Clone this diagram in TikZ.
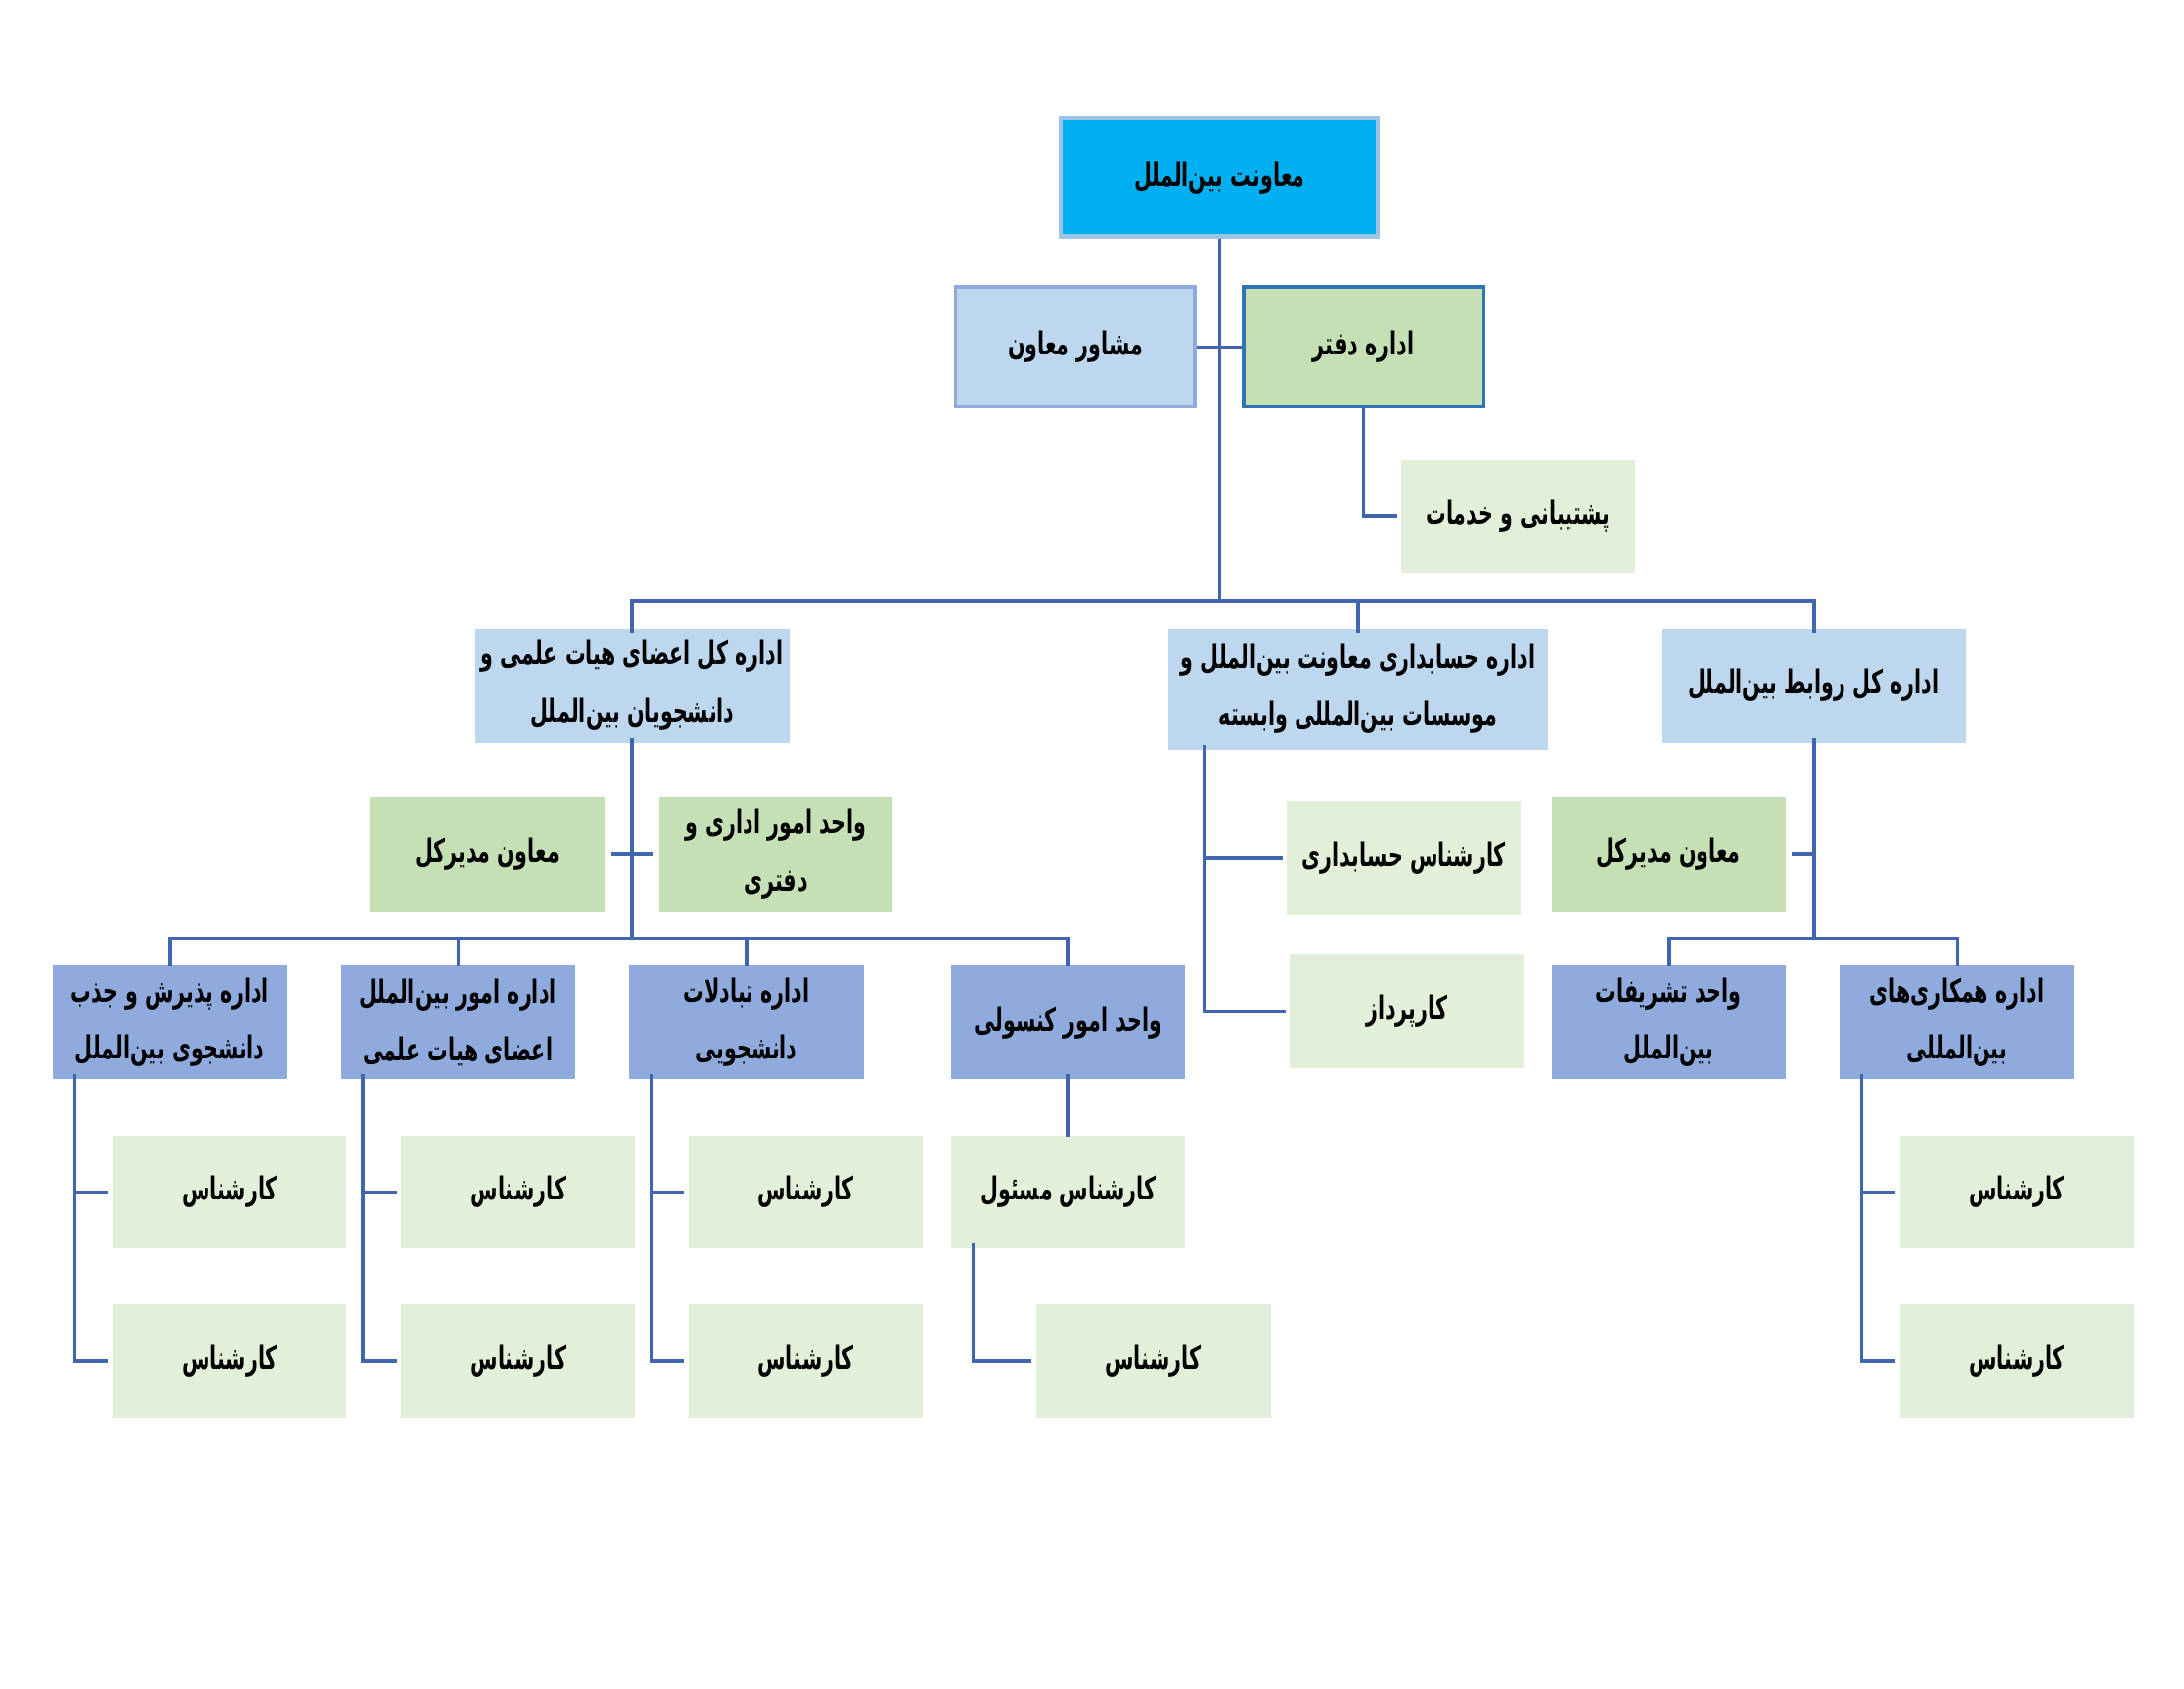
\documentclass[tikz,border=0pt]{standalone}
\usepackage{fontspec}
\TeXXeTstate=1
\newfontfamily\fafont[Script=Arabic,FakeStretch=0.64]{DejaVu Sans}
\newcommand\rl[1]{\beginR #1\endR}
\definecolor{topfill}{HTML}{00B0F0}
\definecolor{topdraw}{HTML}{9DC3E6}
\definecolor{lblue}{HTML}{BDD7EE}
\definecolor{lbluedraw}{HTML}{8FAADC}
\definecolor{mblue}{HTML}{8FAADC}
\definecolor{mgreen}{HTML}{C5E0B4}
\definecolor{lgreen}{HTML}{E2F0D9}
\definecolor{darkdraw}{HTML}{2E75B6}
\definecolor{conn}{HTML}{4165AF}
\begin{document}
\begin{tikzpicture}[x=1pt,y=-1pt,
  box/.style={rectangle,inner sep=0pt,align=center,text=black,
    font=\fafont\bfseries\fontsize{23}{41}\selectfont},
  topbox/.style={box,fill=topfill,draw=topdraw,line width=3pt},
  l2box/.style={box,fill=lblue},
  gbox/.style={box,fill=mgreen},
  bbox/.style={box,fill=mblue},
  leaf/.style={box,fill=lgreen},
  wire/.style={draw=conn,line width=2.6pt}]
\useasboundingbox (0,0) rectangle (1568,1212);
% top
\node[topbox,minimum width=227pt,minimum height=85pt] (top) at (875.5,127.5) {\rl{معاونت بین‌الملل}};
\node[box,fill=lblue,draw=lbluedraw,line width=2.5pt,minimum width=172pt,minimum height=86pt] (mosh) at (772,249) {\rl{مشاور معاون}};
\node[box,fill=mgreen,draw=darkdraw,line width=2.5pt,minimum width=172pt,minimum height=86pt] (daftar) at (979,249) {\rl{اداره دفتر}};
\node[leaf,minimum width=168pt,minimum height=81pt] (posht) at (1090,370.5) {\rl{پشتیبانی و خدمات}};
% level 2
\node[l2box,minimum width=226pt,minimum height=82pt] (la) at (454,492) {\rl{اداره کل اعضای هیات علمی و}\\\rl{دانشجویان بین‌الملل}};
\node[l2box,minimum width=272pt,minimum height=87pt] (lb) at (975,494.5) {\rl{اداره حسابداری معاونت بین‌الملل و}\\\rl{موسسات بین‌المللی وابسته}};
\node[l2box,minimum width=218pt,minimum height=82pt] (lc) at (1302,492) {\rl{اداره کل روابط بین‌الملل}};
% left subtree assistants
\node[gbox,minimum width=168pt,minimum height=82pt] (asa) at (350,613) {\rl{معاون مدیرکل}};
\node[gbox,minimum width=168pt,minimum height=82pt] (asb) at (557,613) {\rl{واحد امور اداری و}\\\rl{دفتری}};
% level 3 left
\node[bbox,minimum width=168pt,minimum height=82pt] (ba) at (122,734) {\rl{اداره پذیرش و جذب}\\\rl{دانشجوی بین‌الملل}};
\node[bbox,minimum width=168pt,minimum height=82pt] (bb) at (329,734) {\rl{اداره امور بین‌الملل}\\\rl{اعضای هیات علمی}};
\node[bbox,minimum width=168pt,minimum height=82pt] (bc) at (536,734) {\rl{اداره تبادلات}\\\rl{دانشجویی}};
\node[bbox,minimum width=168pt,minimum height=82pt] (bd) at (767,734) {\rl{واحد امور کنسولی}};
% leaves left
\node[leaf,minimum width=168pt,minimum height=81pt] (ka1) at (165,855.5) {\rl{کارشناس}};
\node[leaf,minimum width=168pt,minimum height=82pt] (ka2) at (165,977) {\rl{کارشناس}};
\node[leaf,minimum width=168pt,minimum height=81pt] (kb1) at (372,855.5) {\rl{کارشناس}};
\node[leaf,minimum width=168pt,minimum height=82pt] (kb2) at (372,977) {\rl{کارشناس}};
\node[leaf,minimum width=168pt,minimum height=81pt] (kc1) at (578.5,855.5) {\rl{کارشناس}};
\node[leaf,minimum width=168pt,minimum height=82pt] (kc2) at (578.5,977) {\rl{کارشناس}};
\node[leaf,minimum width=168pt,minimum height=81pt] (kd1) at (767,855.5) {\rl{کارشناس مسئول}};
\node[leaf,minimum width=168pt,minimum height=82pt] (kd2) at (828,977) {\rl{کارشناس}};
% middle subtree
\node[leaf,minimum width=168pt,minimum height=82pt] (acc) at (1008,616) {\rl{کارشناس حسابداری}};
\node[leaf,minimum width=168pt,minimum height=82pt] (karp) at (1010,726) {\rl{کارپرداز}};
% right subtree
\node[gbox,minimum width=168pt,minimum height=82pt] (asr) at (1198,613) {\rl{معاون مدیرکل}};
\node[bbox,minimum width=168pt,minimum height=82pt] (be) at (1198,734) {\rl{واحد تشریفات}\\\rl{بین‌الملل}};
\node[bbox,minimum width=168pt,minimum height=82pt] (bf) at (1405,734) {\rl{اداره همکاری‌های}\\\rl{بین‌المللی}};
\node[leaf,minimum width=168pt,minimum height=81pt] (kf1) at (1448,855.5) {\rl{کارشناس}};
\node[leaf,minimum width=168pt,minimum height=82pt] (kf2) at (1448,977) {\rl{کارشناس}};
% bus coordinates
\coordinate (bus1) at (875.5,431);
\coordinate (bus2) at (454,674);
\coordinate (bus3) at (1302,674);
% connectors top
\draw[wire] (top.south) -- (bus1);
\draw[wire] (mosh.east) -- (daftar.west);
\draw[wire] (daftar.south) |- ([xshift=-3pt]posht.west);
\draw[wire] ([yshift=-3pt]la.north) |- (bus1) -| ([yshift=-3pt]lc.north);
\draw[wire] (bus1 -| lb.north) -- ([yshift=-3pt]lb.north);
% left subtree
\draw[wire] ([yshift=4pt]la.south) -- (bus2);
\draw[wire] ([xshift=4pt]asa.east) -- ([xshift=-4pt]asb.west);
\draw[wire] ([yshift=-1pt]ba.north) |- (bus2) -| ([yshift=-1pt]bd.north);
\draw[wire] (bus2 -| bb.north) -- ([yshift=-1pt]bb.north);
\draw[wire] (bus2 -| bc.north) -- ([yshift=-1pt]bc.north);
\foreach \b/\u/\v in {ba/ka1/ka2,bb/kb1/kb2,bc/kc1/kc2}{
  \draw[wire] ([xshift=16pt,yshift=4pt]\b.south west) |- ([xshift=-3pt]\v.west);
  \draw[wire] ([xshift=16pt,yshift=4pt]\b.south west) |- ([xshift=-3pt]\u.west);
}
\draw[wire] ([yshift=4pt]bd.south) -- ([yshift=-1pt]kd1.north);
\draw[wire] ([xshift=16pt,yshift=4pt]kd1.south west) |- ([xshift=-3pt]kd2.west);
% middle subtree
\draw[wire] ([xshift=26pt,yshift=4pt]lb.south west) |- ([xshift=-3pt]karp.west);
\draw[wire] ([xshift=26pt,yshift=4pt]lb.south west) |- ([xshift=-3pt]acc.west);
% right subtree
\draw[wire] ([yshift=4pt]lc.south) -- (bus3);
\draw[wire] ([xshift=4pt]asr.east) -- (asr.east -| bus3);
\draw[wire] ([yshift=-1pt]be.north) |- (bus3) -| ([yshift=-1pt]bf.north);
\draw[wire] ([xshift=16pt,yshift=4pt]bf.south west) |- ([xshift=-3pt]kf2.west);
\draw[wire] ([xshift=16pt,yshift=4pt]bf.south west) |- ([xshift=-3pt]kf1.west);
\end{tikzpicture}
\end{document}
